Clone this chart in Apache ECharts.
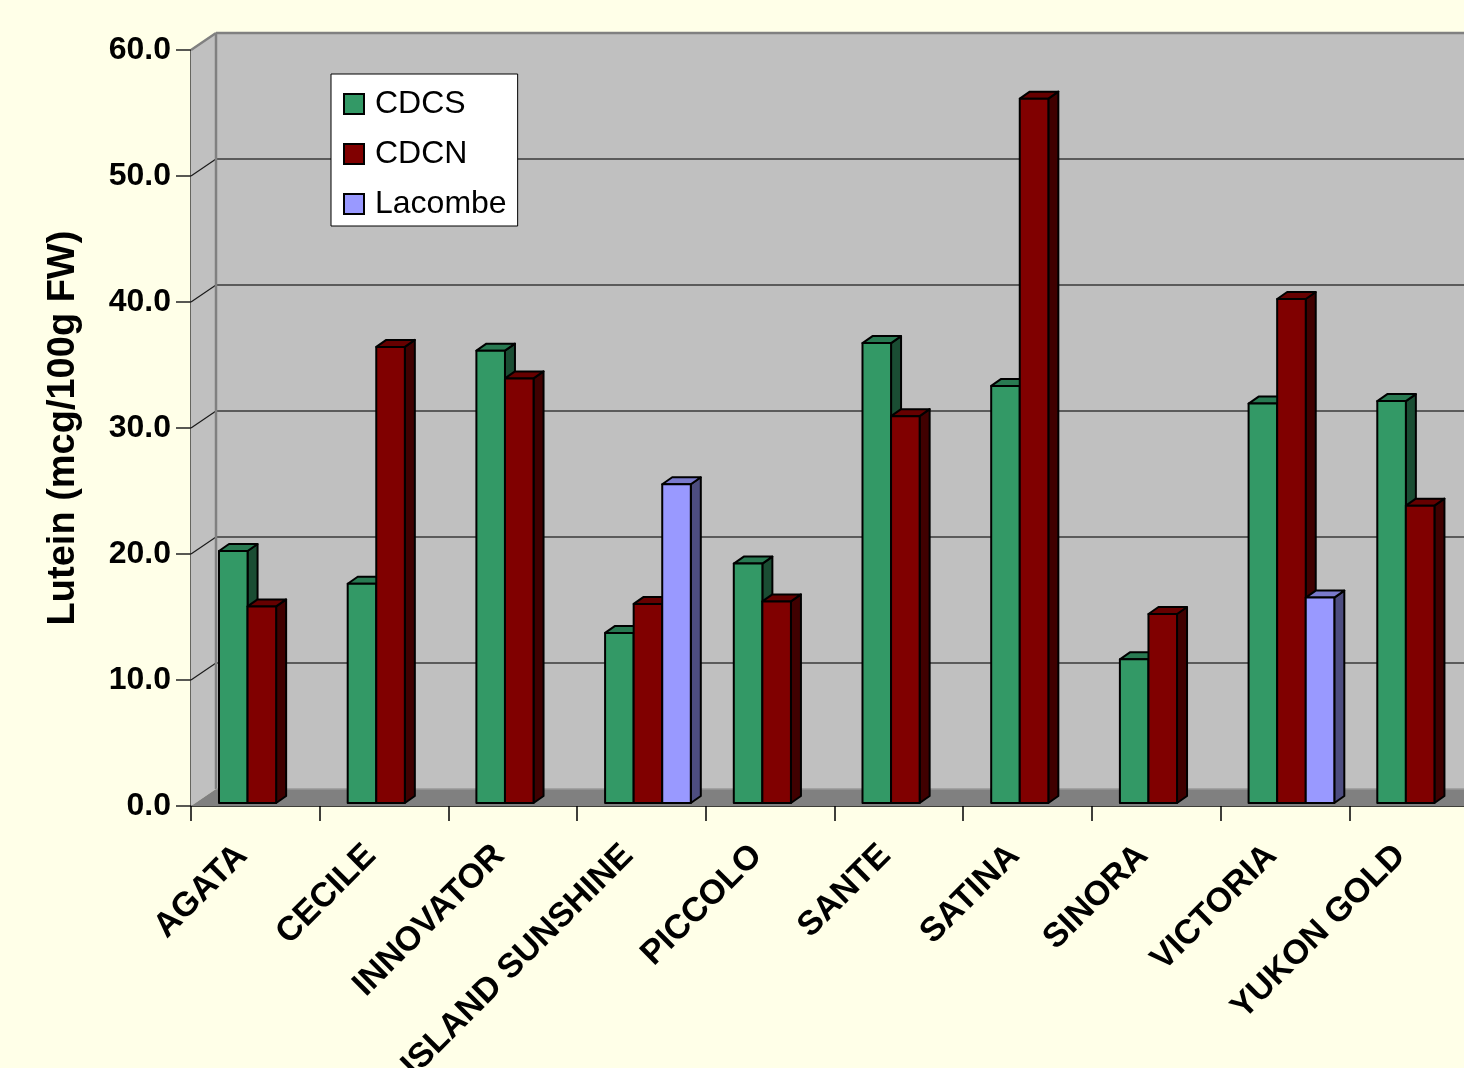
<!DOCTYPE html>
<html>
<head>
<meta charset="utf-8">
<title>Lutein content by potato cultivar</title>
<script src="https://cdn.jsdelivr.net/npm/echarts@6/dist/echarts.min.js"></script>
<style>
  html, body { margin: 0; padding: 0; background: #FFFFE8; }
  #chart { width: 1464px; height: 1068px; }
</style>
</head>
<body>
<div id="chart"></div>
<script>
// Cultivars and lutein levels (mcg/100g FW) per growing site
const categories = ['AGATA', 'CECILE', 'INNOVATOR', 'ISLAND SUNSHINE', 'PICCOLO',
                    'SANTE', 'SATINA', 'SINORA', 'VICTORIA', 'YUKON GOLD'];
const cdcs     = [20.0, 17.4, 35.9, 13.5, 19.0, 36.5, 33.1, 11.4, 31.7, 31.9];
const cdcn     = [15.6, 36.2, 33.7, 15.8, 16.0, 30.7, 55.9, 15.0, 40.0, 23.6];
const lacombe  = [null, null, null, 25.3, null, null, null, null, 16.3, null];
const yTicks   = [0, 10, 20, 30, 40, 50, 60];

const seriesNames = ['CDCS', 'CDCN', 'Lacombe'];
const seriesValues = [cdcs, cdcn, lacombe];
const faceColors = ['#339966', '#800000', '#9999FF'];
const topColors  = ['#297A52', '#660000', '#7A7ACC'];
const sideColors = ['#1A4D33', '#400000', '#4D4D80'];

// Oblique depth of the plot box (back wall offset) and of each bar
const WALL_DX = 25, WALL_DY = -17;
const BAR_X0 = 6.5, BAR_Y0 = -3;     // bar front plane relative to front axis plane
const BAR_DX = 10, BAR_DY = -7;      // bar depth
const SLOT_RATIO = 0.222;            // bar width as share of a category band

function wallsRenderItem(params, api) {
  const cs = params.coordSys;
  const x0 = cs.x, yTop = cs.y, w = cs.width, yBot = cs.y + cs.height;
  const children = [];
  // left side wall
  children.push({
    type: 'polygon',
    shape: { points: [[x0, yTop], [x0 + WALL_DX, yTop + WALL_DY], [x0 + WALL_DX, yBot + WALL_DY], [x0, yBot]] },
    style: { fill: '#C0C0C0', stroke: null }
  });
  // back wall
  children.push({
    type: 'rect',
    shape: { x: x0 + WALL_DX, y: yTop + WALL_DY, width: w, height: cs.height },
    style: { fill: '#C0C0C0', stroke: null }
  });
  // floor
  children.push({
    type: 'polygon',
    shape: { points: [[x0, yBot], [x0 + WALL_DX, yBot + WALL_DY], [x0 + w + WALL_DX, yBot + WALL_DY], [x0 + w, yBot]] },
    style: { fill: '#808080', stroke: null }
  });
  // gridlines on back and side walls
  yTicks.forEach(function (v) {
    if (v === 0) return;
    const y = api.coord([0, v])[1];
    const top = v === yTicks[yTicks.length - 1];
    children.push({
      type: 'line',
      shape: { x1: x0 + WALL_DX, y1: y + WALL_DY, x2: x0 + w + WALL_DX + 40, y2: y + WALL_DY },
      style: { stroke: top ? '#808080' : '#3a3a3a', lineWidth: top ? 2.5 : 1.3 }
    });
    children.push({
      type: 'line',
      shape: { x1: x0, y1: y, x2: x0 + WALL_DX, y2: y + WALL_DY },
      style: { stroke: top ? '#808080' : '#1a1a1a', lineWidth: top ? 2.5 : 1.2 }
    });
  });
  // back wall left edge
  children.push({
    type: 'line',
    shape: { x1: x0 + WALL_DX, y1: yTop + WALL_DY, x2: x0 + WALL_DX, y2: yBot + WALL_DY },
    style: { stroke: '#808080', lineWidth: 2.5 }
  });
  // lighter seam where floor meets back wall
  children.push({
    type: 'line',
    shape: { x1: x0 + WALL_DX, y1: yBot + WALL_DY, x2: x0 + w + WALL_DX, y2: yBot + WALL_DY },
    style: { stroke: '#999999', lineWidth: 1.5 }
  });
  return { type: 'group', children: children };
}

function makeBarRenderer(s) {
  return function (params, api) {
    const ci = api.value(0);
    const v = api.value(1);
    const base = api.coord([ci, 0]);
    const tip = api.coord([ci, v]);
    const slot = api.size([1, 0])[0] * SLOT_RATIO;
    const xl = base[0] - 1.5 * slot + s * slot + BAR_X0;
    const xr = xl + slot;
    const yb = base[1] + BAR_Y0;
    const yt = tip[1] + BAR_Y0;
    const stroke = { stroke: '#000', lineWidth: 2, lineJoin: 'round' };
    return {
      type: 'group',
      children: [
        {
          type: 'polygon',
          shape: { points: [[xr, yt], [xr + BAR_DX, yt + BAR_DY], [xr + BAR_DX, yb + BAR_DY], [xr, yb]] },
          style: Object.assign({ fill: sideColors[s] }, stroke)
        },
        {
          type: 'polygon',
          shape: { points: [[xl, yt], [xr, yt], [xr + BAR_DX, yt + BAR_DY], [xl + BAR_DX, yt + BAR_DY]] },
          style: Object.assign({ fill: topColors[s] }, stroke)
        },
        {
          type: 'rect',
          shape: { x: xl, y: yt, width: slot, height: yb - yt },
          style: Object.assign({ fill: faceColors[s] }, stroke)
        }
      ]
    };
  };
}

const barSeries = seriesValues.map(function (vals, s) {
  const data = [];
  vals.forEach(function (v, i) { if (v != null) data.push([i, v]); });
  return {
    name: seriesNames[s],
    type: 'custom',
    renderItem: makeBarRenderer(s),
    encode: { x: 0, y: 1 },
    data: data,
    z: 5,
    itemStyle: { color: faceColors[s], borderColor: '#000', borderWidth: 1.5 }
  };
});

const chart = echarts.init(document.getElementById('chart'), null, { renderer: 'canvas' });
chart.setOption({
  backgroundColor: '#FFFFE8',
  animation: false,
  textStyle: { fontFamily: 'Liberation Sans, Arial, sans-serif' },
  grid: { left: 191, top: 50, bottom: 262, right: -14, containLabel: false, outerBoundsMode: 'none' },
  legend: {
    orient: 'vertical',
    left: 331, top: 74,
    padding: [14, 11, 6, 12],
    itemWidth: 20, itemHeight: 20,
    itemGap: 18,
    icon: 'rect',
    backgroundColor: '#FFFFFF',
    borderColor: '#000000',
    borderWidth: 1,
    borderRadius: 0,
    data: seriesNames,
    textStyle: { fontSize: 32, color: '#000', padding: [0, 0, 0, 6], lineHeight: 32 }
  },
  xAxis: {
    type: 'category',
    data: categories,
    boundaryGap: true,
    axisLine: { show: true, lineStyle: { color: '#000', width: 1.5 } },
    axisTick: { show: true, length: 15, interval: 0, lineStyle: { color: '#000', width: 1.5 } },
    axisLabel: {
      interval: 0, rotate: 45, margin: 31,
      fontSize: 34, fontWeight: 'bold', color: '#000',
      padding: [0, 19, 0, 0]
    },
    splitLine: { show: false }
  },
  yAxis: {
    type: 'value',
    min: 0, max: 60, interval: 10,
    name: 'Lutein (mcg/100g FW)',
    nameLocation: 'middle',
    nameGap: 108,
    nameTextStyle: { fontSize: 38, fontWeight: 'bold', color: '#000' },
    axisLine: { show: true, lineStyle: { color: '#333', width: 1.5 } },
    axisTick: { show: true, length: 15, lineStyle: { color: '#222', width: 1.5 } },
    axisLabel: {
      margin: 20, fontSize: 32, fontWeight: 'bold', color: '#000',
      formatter: function (v) { return v.toFixed(1); }
    },
    splitLine: { show: false }
  },
  series: [{
    name: 'walls',
    type: 'custom',
    renderItem: wallsRenderItem,
    data: [[0, 0]],
    encode: { x: 0, y: 1 },
    z: 1,
    silent: true
  }].concat(barSeries)
});
</script>
</body>
</html>
